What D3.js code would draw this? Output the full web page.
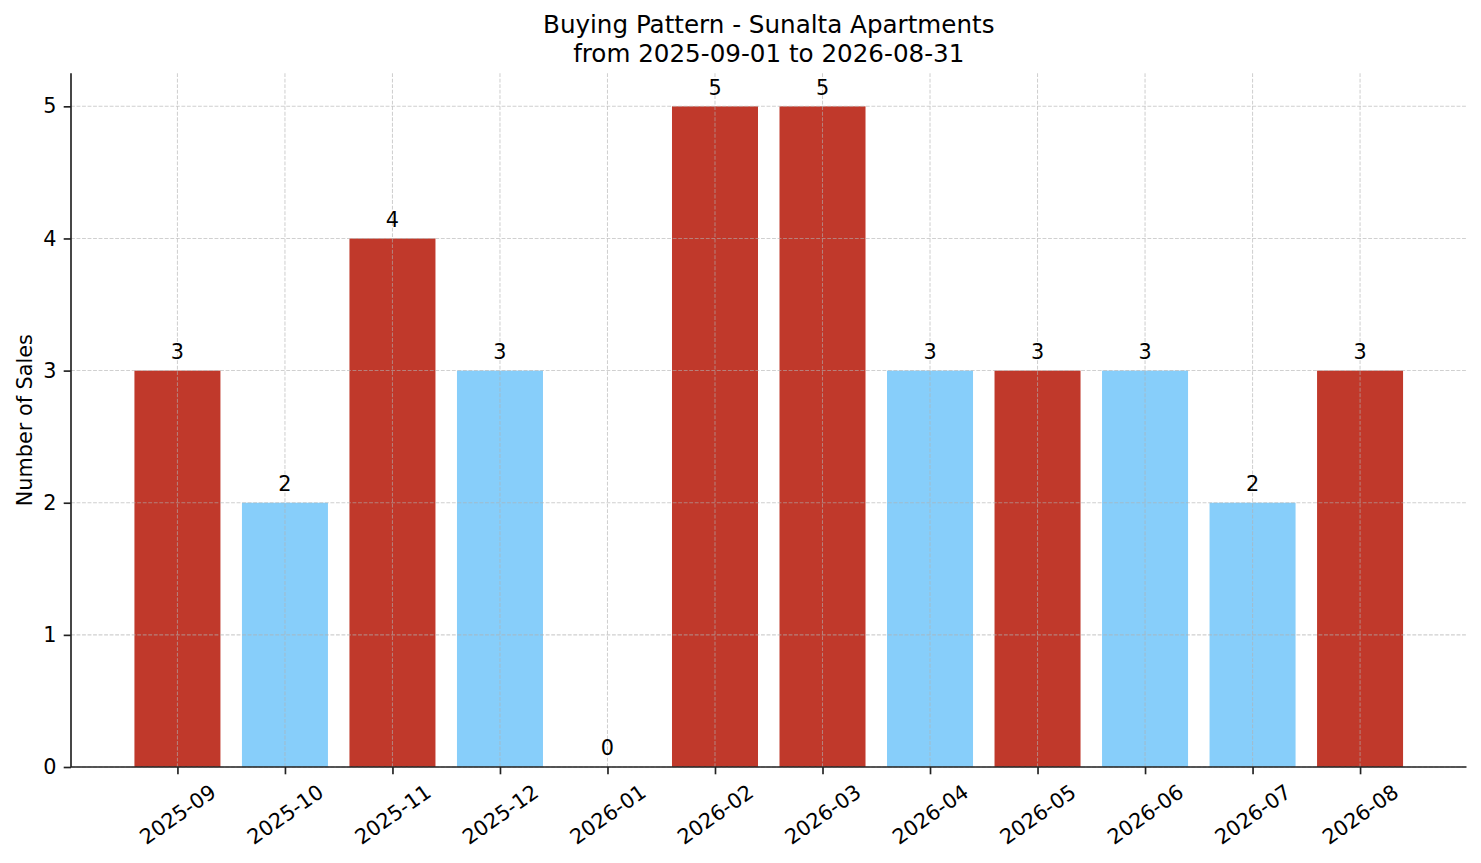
<!DOCTYPE html>
<html>
<head>
<meta charset="utf-8">
<script src="https://cdn.jsdelivr.net/npm/d3@7"></script>
<style>
    body { margin: 0; background: #fff; }
    text { font-family: "DejaVu Sans", sans-serif; fill: #000; }
</style>
</head>
<body>
<svg id="chart"></svg>
<script>
// monthly sales data
const months = ["2025-09", "2025-10", "2025-11", "2025-12", "2026-01", "2026-02",
                "2026-03", "2026-04", "2026-05", "2026-06", "2026-07", "2026-08"];
const sales = [3, 2, 4, 3, 0, 5, 5, 3, 3, 3, 2, 3];
// which bars are drawn in the highlight colour
const highlighted = [true, false, true, false, true, true, true, false, true, false, false, true];
const yTicks = [0, 1, 2, 3, 4, 5];
const titleLines = ["Buying Pattern - Sunalta Apartments", "from 2025-09-01 to 2026-08-31"];

const width = 1481, height = 863;
const margin = {left: 71, right: 14.5, top: 73.3, bottom: 96};
const fontSize = 20.8;

const svg = d3.select("#chart")
    .attr("width", width)
    .attr("height", height);

const data = months.map((m, i) => ({month: m, value: sales[i], hl: highlighted[i], idx: i}));

// matplotlib style: bars 0.8 wide, 5% margins
const x = d3.scaleLinear()
    .domain([-0.4 - 0.59, months.length - 1 + 0.4 + 0.59])
    .range([margin.left, width - margin.right]);
const y = d3.scaleLinear()
    .domain([0, 5.25])
    .range([height - margin.bottom, margin.top]);

const color = d3.scaleOrdinal()
    .domain([true, false])
    .range(["#c0392b", "#87cefa"]);

const barW = x(0.8) - x(0);

// bars
svg.append("g")
    .selectAll("rect")
    .data(data)
    .enter()
    .append("rect")
    .attr("x", d => x(d.idx) - barW / 2)
    .attr("width", barW)
    .attr("y", d => y(d.value))
    .attr("height", d => y(0) - y(d.value))
    .attr("fill", d => color(d.hl));

// grid on top of bars
const grid = svg.append("g")
    .attr("stroke", "#b0b0b0")
    .attr("stroke-opacity", 0.6)
    .attr("stroke-width", 1.04)
    .attr("stroke-dasharray", "3.85,1.67");

grid.selectAll(".gx")
    .data(data)
    .enter()
    .append("line")
    .attr("x1", d => x(d.idx))
    .attr("x2", d => x(d.idx))
    .attr("y1", y.range()[0])
    .attr("y2", y.range()[1]);

grid.selectAll(".gy")
    .data(yTicks)
    .enter()
    .append("line")
    .attr("x1", x.range()[0])
    .attr("x2", x.range()[1])
    .attr("y1", d => y(d))
    .attr("y2", d => y(d));

// value labels
svg.append("g")
    .selectAll("text")
    .data(data)
    .enter()
    .append("text")
    .attr("x", d => x(d.idx))
    .attr("y", d => y(d.value + 0.05) - 5)
    .attr("text-anchor", "middle")
    .style("font-size", fontSize + "px")
    .text(d => d.value);

// y axis
const axisY = d3.axisLeft(y)
    .tickValues(yTicks)
    .tickFormat(d3.format("d"))
    .tickSize(7.3)
    .tickPadding(7.3);

const gy = svg.append("g")
    .attr("transform", `translate(${margin.left}, 0)`)
    .call(axisY);
gy.select(".domain").remove();
gy.selectAll("line").attr("stroke", "#222").attr("stroke-width", 1.67);
gy.selectAll("text")
    .style("font-size", fontSize + "px")
    .attr("font-family", null);

// x axis
const axisX = d3.axisBottom(x)
    .tickValues(d3.range(months.length))
    .tickFormat(i => months[i])
    .tickSize(7.3)
    .tickPadding(0);

const gx = svg.append("g")
    .attr("transform", `translate(0, ${y(0)})`)
    .call(axisX);
gx.select(".domain").remove();
gx.selectAll("line").attr("stroke", "#222").attr("stroke-width", 1.67);

// rotated labels, bounding box centred under the tick (matplotlib ha=center)
const angle = 35, rad = angle * Math.PI / 180;
const labelTop = 7.3 + 7.3;
gx.selectAll("text")
    .style("font-size", fontSize + "px")
    .attr("font-family", null)
    .attr("dy", null)
    .attr("dominant-baseline", "central")
    .attr("text-anchor", "middle")
    .each(function () {
        const w = this.getComputedTextLength();
        const h = fontSize * 0.95;
        const cy = labelTop + w / 2 * Math.sin(rad) + h / 2 * Math.cos(rad);
        d3.select(this)
            .attr("y", 0)
            .attr("transform", `translate(0, ${cy}) rotate(${-angle})`);
    });

// spines
svg.append("line")
    .attr("x1", margin.left).attr("x2", margin.left)
    .attr("y1", y.range()[1]).attr("y2", y.range()[0])
    .attr("stroke", "#222").attr("stroke-width", 1.67);
svg.append("line")
    .attr("x1", x.range()[0]).attr("x2", x.range()[1])
    .attr("y1", y(0)).attr("y2", y(0))
    .attr("stroke", "#222").attr("stroke-width", 1.67);

// y label
svg.append("text")
    .attr("transform", `translate(32, ${(y.range()[0] + y.range()[1]) / 2}) rotate(-90)`)
    .attr("text-anchor", "middle")
    .style("font-size", fontSize + "px")
    .text("Number of Sales");

// title
const cx = (x.range()[0] + x.range()[1]) / 2;
svg.append("g")
    .selectAll("text")
    .data(titleLines)
    .enter()
    .append("text")
    .attr("x", cx)
    .attr("y", (d, i) => 33.3 + i * 28.4)
    .attr("text-anchor", "middle")
    .style("font-size", "24.6px")
    .text(d => d);
</script>
</body>
</html>
